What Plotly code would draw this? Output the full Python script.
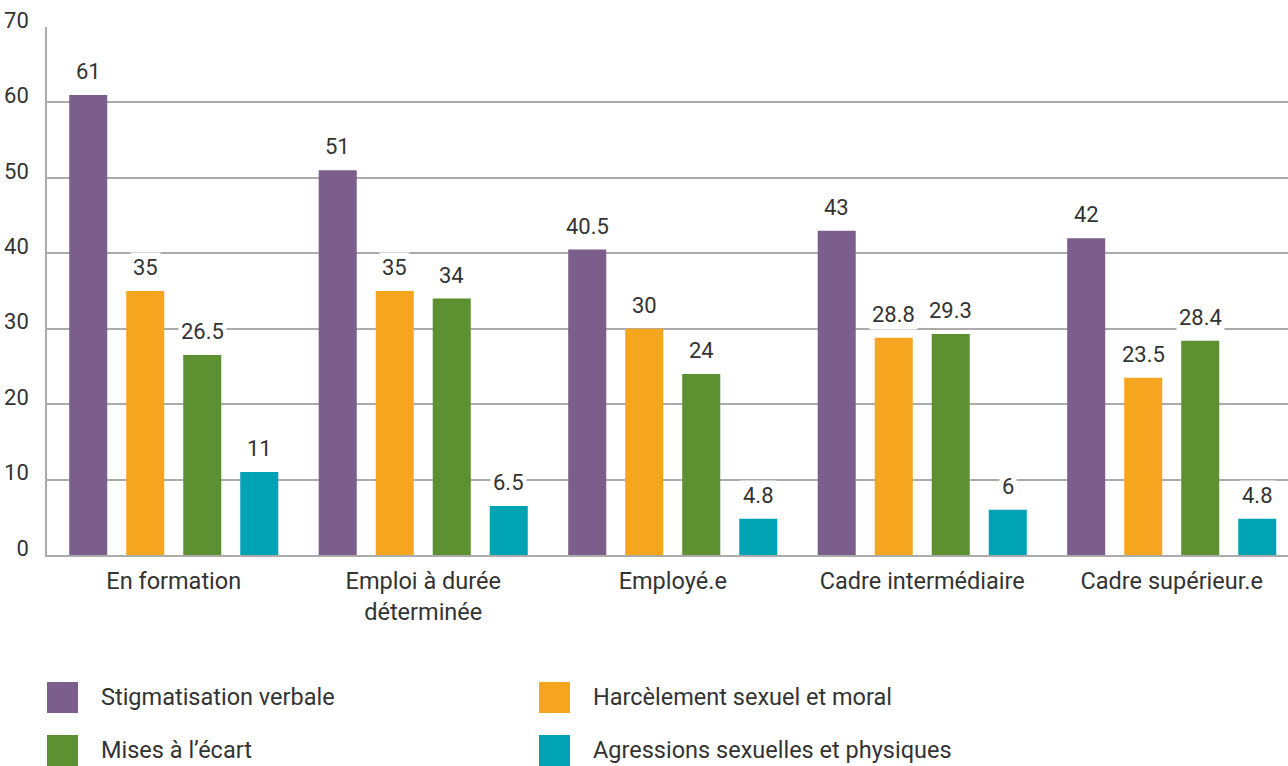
import plotly.graph_objects as go

categories = ['En formation', 'Emploi à durée<br>déterminée', 'Employé.e',
              'Cadre intermédiaire', 'Cadre supérieur.e']
series_names = ['Stigmatisation verbale', 'Harcèlement sexuel et moral',
                'Mises à l’écart', 'Agressions sexuelles et physiques']
stigmatisation = [61, 51, 40.5, 43, 42]
harcelement = [35, 35, 30, 28.8, 23.5]
mises_ecart = [26.5, 34, 24, 29.3, 28.4]
agressions = [11, 6.5, 4.8, 6, 4.8]
y_ticks = [0, 10, 20, 30, 40, 50, 60, 70]

series_values = [stigmatisation, harcelement, mises_ecart, agressions]
colors = ['#7B5E8B', '#F6A51F', '#5C9030', '#00A3B4']

W, H = 1288, 766
L, R, T, B = 47, 0, 27, 211
plot_w = W - L - R
plot_h = H - T - B
x_range = [-0.508, 4.466]
bargap = 0.086
cat_px = plot_w / (x_range[1] - x_range[0])
slot_px = cat_px * (1 - bargap) / len(series_values)
text_color = '#333333'
font_family = 'Roboto, sans-serif'
fsize = 23.5
num_size = 22


def px_x(px):
    return (px - L) / plot_w


def px_y(py):
    return (H - B - py) / plot_h


fig = go.Figure()
for name, values, color in zip(series_names, series_values, colors):
    fig.add_trace(go.Bar(x=categories, y=values, name=name,
                         marker=dict(color=color, line=dict(width=0)),
                         showlegend=False, hoverinfo='y'))

annotations = []
for i, values in enumerate(series_values):
    shift = (i - (len(series_values) - 1) / 2) * slot_px
    for cat, v in zip(categories, values):
        annotations.append(dict(x=cat, y=v, xref='x', yref='y', text=f'{v:g}',
                                showarrow=False, yanchor='bottom', xshift=shift,
                                yshift=8, bgcolor='white', borderpad=2,
                                font=dict(size=num_size, color=text_color, family=font_family)))

# legend drawn by hand: big square keys in two columns
shapes = []
legend_pos = [(47, 682), (539, 682), (47, 735), (539, 735)]
for (lx, ly), name, color in zip(legend_pos, series_names, colors):
    shapes.append(dict(type='rect', xref='paper', yref='paper',
                       x0=px_x(lx), x1=px_x(lx + 31), y0=px_y(ly), y1=px_y(ly + 31),
                       fillcolor=color, line=dict(width=0)))
    annotations.append(dict(x=px_x(lx + 52), y=px_y(ly + 15), xref='paper', yref='paper',
                            text=name, showarrow=False, xanchor='left', yanchor='middle',
                            font=dict(size=fsize, color=text_color, family=font_family)))

fig.update_layout(
    width=W, height=H,
    margin=dict(l=L, r=R, t=T, b=B, autoexpand=False),
    plot_bgcolor='white', paper_bgcolor='white',
    barmode='group', bargap=bargap, bargroupgap=0.333,
    font=dict(family=font_family, size=fsize, color=text_color),
    xaxis=dict(range=x_range, showgrid=False, showline=True, linecolor='#ABABAB',
               linewidth=2, ticks='', tickfont=dict(size=fsize, color=text_color),
               ticklabelstandoff=4, automargin=False),
    yaxis=dict(range=[0, 70], tickvals=y_ticks, showgrid=True, gridcolor='#ABABAB',
               gridwidth=1.5, showline=True, linecolor='#ABABAB', linewidth=1.5,
               zeroline=False, ticks='', tickfont=dict(size=num_size, color=text_color),
               ticklabelshift=-7, ticklabelstandoff=12, ticklabeloverflow='allow',
               automargin=False),
    annotations=annotations,
    shapes=shapes,
)

# drop the default page margin so the figure fills the window exactly
fig.write_html('out.html', config={'displayModeBar': False},
               post_script="document.body.style.margin = '0';")
